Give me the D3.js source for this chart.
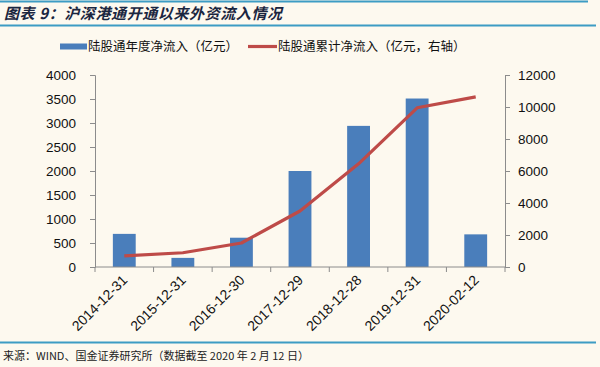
<!DOCTYPE html>
<html><head><meta charset="utf-8">
<script src="https://cdn.jsdelivr.net/npm/d3@7"></script>
<style>body{margin:0;background:#fdf9ef;}svg{display:block;}</style>
</head><body>
<svg id="c" width="600" height="367"></svg>
<script>
const categories = ["2014-12-31","2015-12-31","2016-12-30","2017-12-29","2018-12-28","2019-12-31","2020-02-12"];
const annualInflow = [690, 190, 610, 2000, 2940, 3510, 680];
const cumulativeInflow = [700, 890, 1500, 3500, 6450, 9950, 10630];
const leftTicks = [0,500,1000,1500,2000,2500,3000,3500,4000];
const rightTicks = [0,2000,4000,6000,8000,10000,12000];
const title = "图表 9：沪深港通开通以来外资流入情况";
const legendBar = "陆股通年度净流入（亿元）";
const legendLine = "陆股通累计净流入（亿元，右轴）";
const source = "来源：WIND、国金证券研究所（数据截至 2020 年 2 月 12 日）";

const svg = d3.select("#c");
svg.append("rect").attr("width",600).attr("height",367).attr("fill","#fdf9ef");
const lineCol = "#3d9cc4";
svg.append("line").attr("x1",0).attr("x2",588).attr("y1",1.5).attr("y2",1.5).attr("stroke",lineCol).attr("stroke-width",2);
svg.append("line").attr("x1",0).attr("x2",596).attr("y1",25.5).attr("y2",25.5).attr("stroke",lineCol).attr("stroke-width",2);
svg.append("line").attr("x1",0).attr("x2",596).attr("y1",342.5).attr("y2",342.5).attr("stroke",lineCol).attr("stroke-width",2);

svg.append("text").attr("x",4).attr("y",19).text(title).attr("letter-spacing",0.6)
  .attr("font-family","Noto Sans CJK SC").attr("font-size",15).attr("font-style","italic").attr("font-weight","bold").attr("fill","#1b2640");

svg.append("text").attr("x",3).attr("y",360).text(source)
  .attr("font-family","Noto Sans CJK SC").attr("font-size",11).attr("fill","#222");

const L = 95, R = 505, T = 75, B = 267;
const x = d3.scaleBand().domain(categories).range([L,R]).paddingInner(0.61).paddingOuter(0.305);
const xb = d3.scaleBand().domain(categories).range([L,R]);
const yL = d3.scaleLinear().domain([0,4000]).range([B,T]);
const yR = d3.scaleLinear().domain([0,12000]).range([B,T]);

const font = "Liberation Sans, Arial, sans-serif";
const axisCol = "#8c8c8c";

const gl = svg.append("g").attr("transform",`translate(${L},0)`).call(d3.axisLeft(yL).tickValues(leftTicks).tickFormat(d3.format("d")).tickSize(5).tickPadding(14));
const gr = svg.append("g").attr("transform",`translate(${R},0)`).call(d3.axisRight(yR).tickValues(rightTicks).tickFormat(d3.format("d")).tickSize(5).tickPadding(8));
[gl,gr].forEach(g=>{
  g.select(".domain").attr("stroke",axisCol);
  g.selectAll(".tick line").attr("stroke",axisCol);
  g.selectAll("text").attr("font-family",font).attr("font-size",13.5).attr("fill","#111");
});

// bars
svg.append("g").selectAll("rect").data(annualInflow).join("rect")
  .attr("x",(d,i)=>x(categories[i])).attr("width",x.bandwidth())
  .attr("y",d=>yL(d)).attr("height",d=>B-yL(d)).attr("fill","#4a7ebb");

// x axis
const gx = svg.append("g").attr("transform",`translate(0,${B})`);
gx.append("line").attr("x1",L).attr("x2",R).attr("y1",0).attr("y2",0).attr("stroke",axisCol);
gx.selectAll("line.t").data(d3.range(categories.length+1)).join("line").attr("class","t")
  .attr("x1",i=>L+i*xb.step()).attr("x2",i=>L+i*xb.step()).attr("y1",0).attr("y2",5).attr("stroke",axisCol);
gx.selectAll("text").data(categories).join("text")
  .attr("transform",d=>`translate(${xb(d)+xb.bandwidth()/2+4},${14}) rotate(-45)`)
  .attr("text-anchor","end").attr("font-family",font).attr("font-size",14).attr("fill","#111").text(d=>d);

// line
const line = d3.line().x((d,i)=>xb(categories[i])+xb.bandwidth()/2).y(d=>yR(d));
svg.append("path").datum(cumulativeInflow).attr("d",line).attr("fill","none").attr("stroke","#be4b48").attr("stroke-width",3.2).attr("stroke-linejoin","round");

// legend
const lg = svg.append("g");
lg.append("rect").attr("x",60).attr("y",43.5).attr("width",27).attr("height",6).attr("fill","#4a7ebb");
lg.append("text").attr("x",88).attr("y",51).text(legendBar).attr("font-family","Noto Sans CJK SC").attr("font-size",12.5).attr("fill","#111");
lg.append("line").attr("x1",248).attr("x2",277).attr("y1",46.5).attr("y2",46.5).attr("stroke","#be4b48").attr("stroke-width",3.2);
lg.append("text").attr("x",278).attr("y",51).text(legendLine).attr("font-family","Noto Sans CJK SC").attr("font-size",12.5).attr("fill","#111");
</script>
</body></html>
